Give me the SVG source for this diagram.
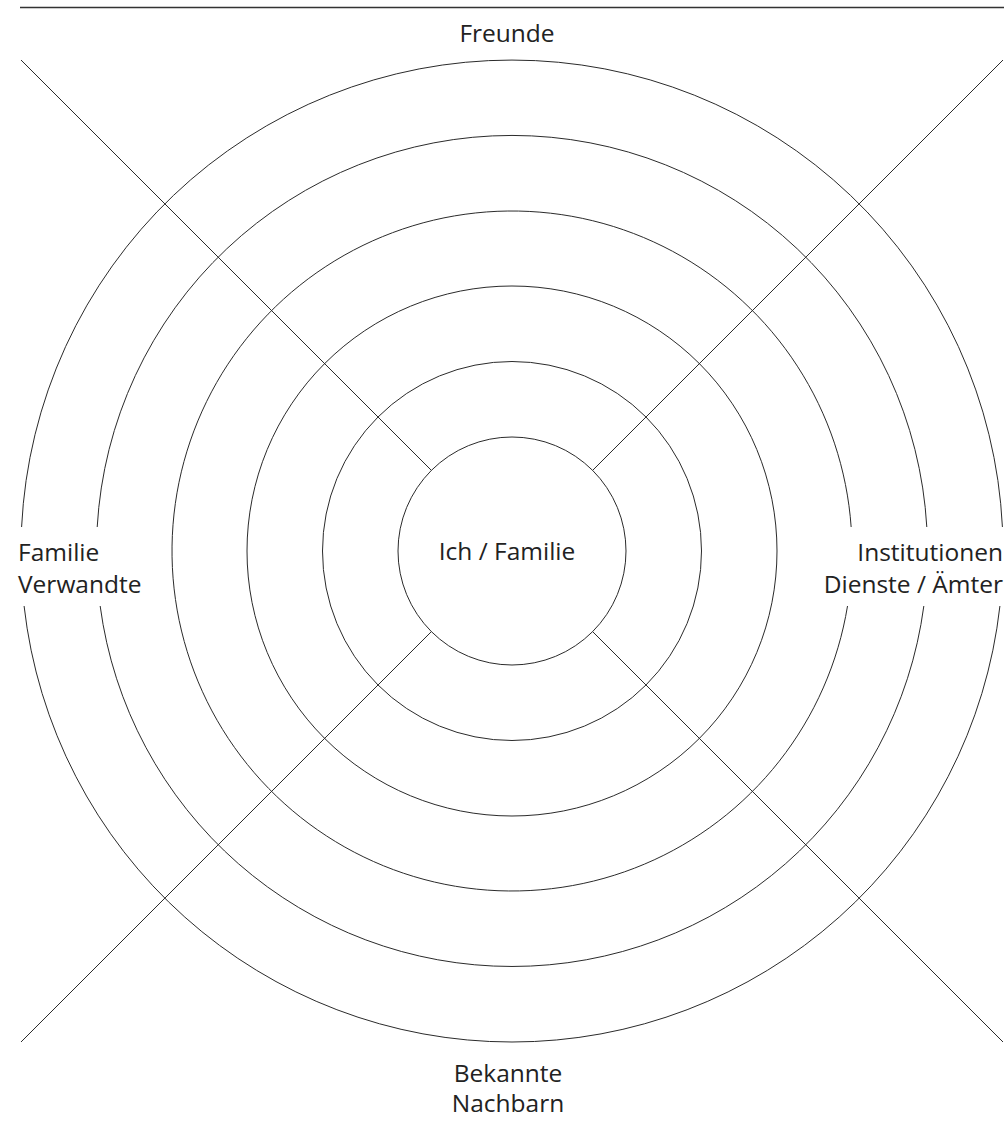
<svg xmlns="http://www.w3.org/2000/svg" width="1008" height="1124" viewBox="0 0 1008 1124">
  <style>
    .ring { fill: none; stroke: #2b2b2b; stroke-width: 1; }
    .ray { stroke: #2b2b2b; stroke-width: 1; fill: none; }
    .lbl { font-family: "Open Sans", "Liberation Sans", sans-serif; font-size: 24.5px; fill: #222; }
  </style>
  <rect width="1008" height="1124" fill="#ffffff"/>
  <line x1="20" y1="7.5" x2="1004" y2="7.5" stroke="#333" stroke-width="1.3"/>

  <g id="connectors">
    <line class="ray" x1="21" y1="60" x2="431.4" y2="470.4"/>
    <line class="ray" x1="1003" y1="60" x2="592.6" y2="470.4"/>
    <line class="ray" x1="21" y1="1042" x2="431.4" y2="631.6"/>
    <line class="ray" x1="1003" y1="1042" x2="592.6" y2="631.6"/>
  </g>

  <g id="ring2"><circle class="ring" cx="512" cy="551" r="189.5"/></g>
  <g id="ring3"><circle class="ring" cx="512" cy="551" r="265"/></g>
  <g id="ring4"><path class="ring" d="M 847.52 606 A 340 340 0 1 1 851.15 527"/></g>
  <g id="ring5">
    <path class="ring" d="M 97.19 527 A 415.5 415.5 0 0 1 926.81 527"/>
    <path class="ring" d="M 923.84 606 A 415.5 415.5 0 0 1 100.16 606"/>
  </g>
  <g id="ring6">
    <path class="ring" d="M 21.59 527 A 491 491 0 0 1 1002.41 527"/>
    <path class="ring" d="M 999.91 606 A 491 491 0 0 1 24.09 606"/>
  </g>

  <g id="center">
    <circle class="ring" cx="512" cy="551" r="114"/>
    <text class="lbl" x="507" y="560" text-anchor="middle">Ich / Familie</text>
  </g>
  <g id="freunde">
    <text class="lbl" x="507" y="42" text-anchor="middle">Freunde</text>
  </g>
  <g id="familie">
    <text class="lbl" x="18" y="561">Familie</text>
    <text class="lbl" x="18" y="593">Verwandte</text>
  </g>
  <g id="institutionen">
    <text class="lbl" x="1003" y="561" text-anchor="end">Institutionen</text>
    <text class="lbl" x="1003" y="593" text-anchor="end">Dienste / Ämter</text>
  </g>
  <g id="bekannte">
    <text class="lbl" x="508" y="1082" text-anchor="middle">Bekannte</text>
    <text class="lbl" x="508" y="1112" text-anchor="middle">Nachbarn</text>
  </g>
</svg>
